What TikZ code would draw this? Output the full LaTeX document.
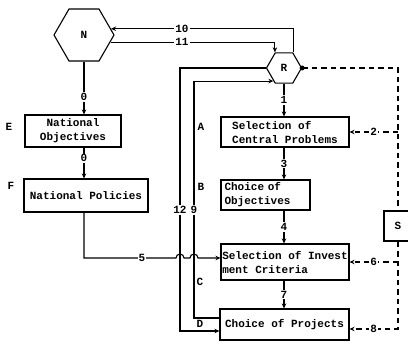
\documentclass[tikz,border=0pt]{standalone}
\usepackage{fontspec}
\setmonofont{Liberation Mono}
\usetikzlibrary{shapes.geometric,arrows.meta,calc}
\begin{document}
\begin{tikzpicture}[x=1pt,y=-1pt,line width=1.1pt,
  font=\ttfamily\bfseries\fontsize{11}{14}\selectfont,
  hexa/.style={draw,regular polygon,regular polygon sides=6,inner sep=0pt},
  box/.style={draw,rectangle,inner ysep=0pt,align=left},
  arr/.style={-{Stealth[length=5pt,width=4.5pt]}},
  lab/.style={fill=white,inner sep=1pt},
  dsh/.style={dash pattern=on 5.5pt off 4pt},
  tag/.style={inner sep=0pt}
]
\useasboundingbox (0,0) rectangle (408,344);
\clip (0,0) rectangle (408,344);
% hexagons
\node[hexa,minimum size=60pt] (N) at (84,35) {N};
\node[hexa,minimum size=35pt] (R) at (284,68) {R};
% boxes
\node[box,minimum width=96pt,minimum height=32pt,align=center] (NO) at (73,131) {National\\Objectives};
\node[box,minimum width=124pt,minimum height=33pt] (NP) at (86,195.5) {National Policies};
\node[box,minimum width=128pt,minimum height=30pt] (CP) at (285,132) {Selection of\\Central Problems};
\node[box,text width=82pt,inner xsep=3.5pt,minimum height=30pt] (CO) at (265.5,195) {Choice of\\Objectives};
\node[box,inner xsep=1.3pt,minimum width=128pt,minimum height=36pt] (IC) at (285,262) {Selection of Invest\\ment Criteria};
\node[box,minimum width=129pt,minimum height=31pt] (PJ) at (284.5,324.5) {Choice of Projects};
\node[box,minimum width=28pt,minimum height=30pt] (S) at (398,226) {S};
% side tags
\node[tag] (tE) at (9,127) {E};
\node[tag] (tF) at (11,186) {F};
\node[tag] (tA) at (201,127) {A};
\node[tag] (tB) at (201,187) {B};
\node[tag] (tC) at (200,282) {C};
\node[tag] (tD) at (200,324) {D};
% left column
\draw[arr] (N.south) -- (N.south |- NO.north) node[lab,pos=0.67] (l0a) {0};
\draw[arr] (NO.south -| N.south) -- (NP.north -| N.south) node[lab,pos=0.35] (l0b) {0};
% 10 and 11
\draw[arr] (R.60) |- (N.13);
\node[lab] (l10) at (182,29) {10};
\draw[arr] (N.-15) -| (R.120);
\node[lab] (l11) at (182,42) {11};
% 5
\coordinate (h1) at (176,258);
\coordinate (h2) at (190,258);
\draw[arr] (NP.south -| N.south) |- (h1) arc[start angle=180,end angle=360,radius=4] -- (h2) arc[start angle=180,end angle=360,radius=4] -- (IC.west |- h2);
\node[lab] (l5) at (142,258) {5};
% 12
\coordinate (k12) at (180,331);
\draw[arr] (R.west) -| (k12) -- (k12 -| PJ.west);
\node[lab] (l12) at (180,210) {12};
% 9
\coordinate (k9) at (194,318);
\draw[arr] (PJ.west |- k9) -- (k9) |- (R.231);
\node[lab] (l9) at (194,210) {9};
% main column
\draw[arr] (R.south) -- (R.south |- CP.north) node[lab,midway] (l1) {1};
\draw[arr] (CP.south -| R.south) -- (CO.north -| R.south) node[lab,midway] (l3) {3};
\draw[arr] (CO.south -| R.south) -- (IC.north -| R.south) node[lab,midway] (l4) {4};
\draw[arr] (IC.south -| R.south) -- (PJ.north -| R.south) node[lab,midway] (l7) {7};
% dashed feedback
\draw[dsh] (R.east) -| (S.north);
\fill (R.east) circle (2.5pt);
\draw[dsh,arr] (S.north |- CP.east) -- (CP.east) node[lab,midway] (l2) {2};
\draw[dsh,arr] (S.south |- IC.east) -- (IC.east) node[lab,midway] (l6) {6};
\draw[dsh,arr] (S.south) |- ($(PJ.east)+(0,4.5)$) node[lab,pos=0.75] (l8) {8};
\end{tikzpicture}
\end{document}
